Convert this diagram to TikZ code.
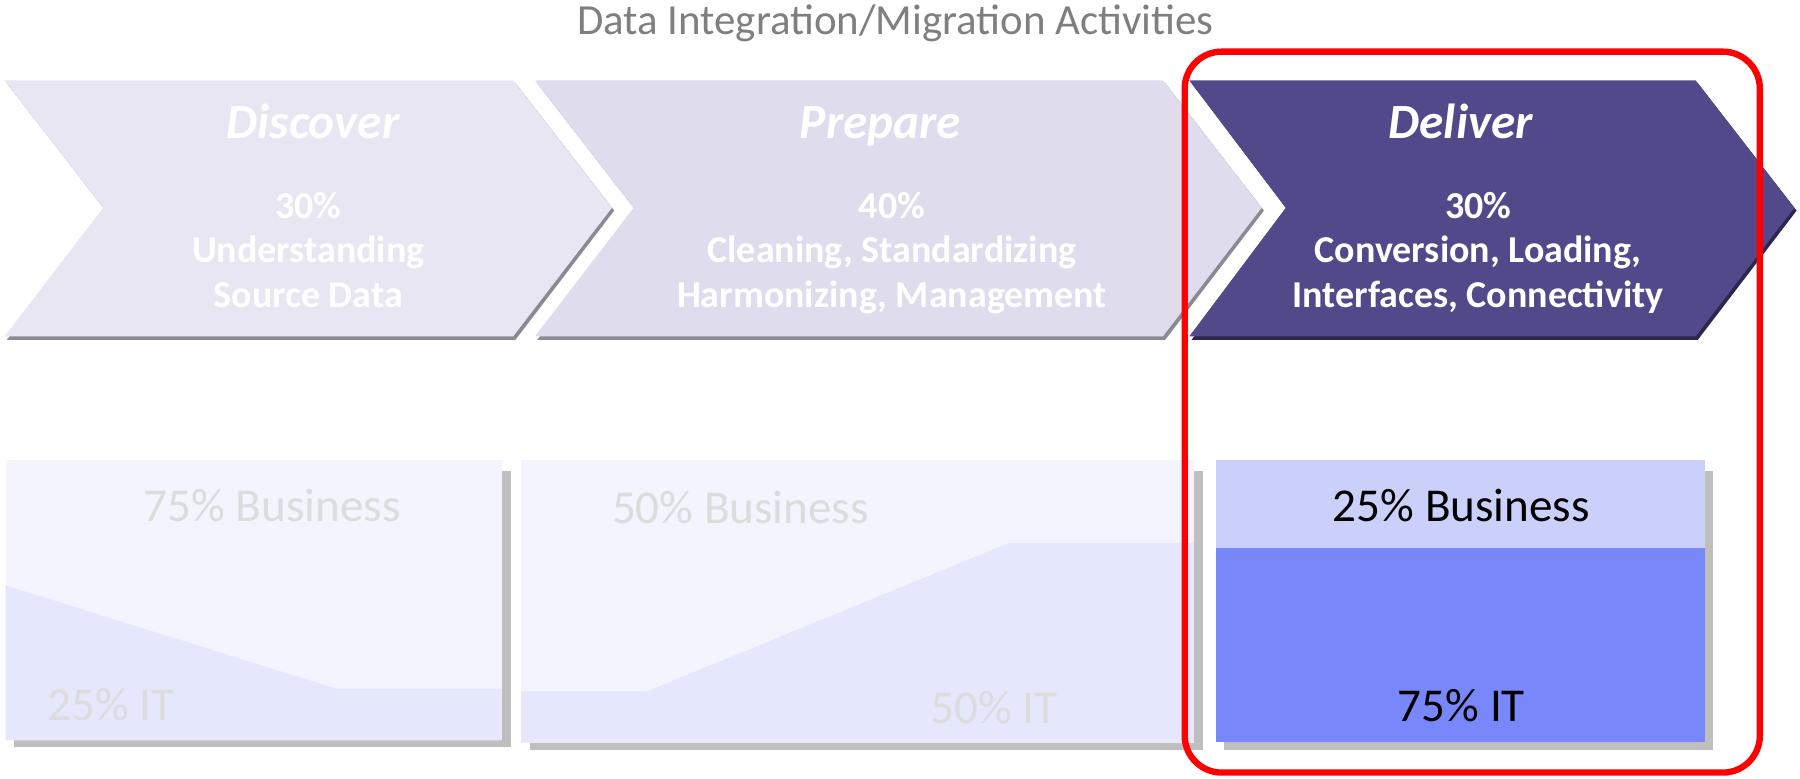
\documentclass[tikz,border=0pt]{standalone}
\usepackage{fontspec}
\setmainfont{Carlito}
\definecolor{chevA}{HTML}{E8E6F3}
\definecolor{chevB}{HTML}{DFDCEE}
\definecolor{chevC}{HTML}{514A8A}
\definecolor{shadeL}{HTML}{8A8A94}
\definecolor{shadeD}{HTML}{2B2750}
\definecolor{boxTop}{HTML}{F2F4FE}
\definecolor{boxLow}{HTML}{E5E7FC}
\definecolor{ghost}{HTML}{DCDCDC}
\definecolor{delTop}{HTML}{CBD0FB}
\definecolor{delLow}{HTML}{7887F9}
\definecolor{shadowG}{HTML}{BFBFBF}
\definecolor{titleG}{HTML}{7F7F7F}
\begin{document}
\begin{tikzpicture}[x=0.01148cm,y=-0.01148cm,
  phase/.style={font=\fontsize{14}{16}\selectfont\bfseries\itshape, text=white, anchor=base, inner sep=0pt},
  phasetxt/.style={font=\fontsize{10.8}{12.6}\selectfont\bfseries, text=white, anchor=base, inner sep=0pt},
  share/.style={font=\fontsize{13.4}{15}\selectfont, anchor=base, inner sep=0pt},
  ghosttxt/.style={share, text=ghost},
  realtxt/.style={share, text=black}]
\useasboundingbox (0,0) rectangle (1568,678);
% title
\node[font=\fontsize{12.2}{14}\selectfont, text=titleG, anchor=base, inner sep=0pt] (title) at (780,30) {Data Integration/Migration Activities};
% chevrons: shadows
\fill[shadeL] (6,72.5) -- (449,72.5) -- (535,183.5) -- (449,296) -- (6,296) -- (92,183.5) -- cycle;
\fill[shadeL] (468,72.5) -- (1015,72.5) -- (1101,183.5) -- (1015,296) -- (468,296) -- (554,183.5) -- cycle;
\fill[shadeD] (1038,72.5) -- (1479,72.5) -- (1565,183.5) -- (1479,296) -- (1038,296) -- (1122,183.5) -- cycle;
% chevrons
\fill[chevA] (4,70) -- (447,70) -- (533,181) -- (447,293) -- (4,293) -- (90,181) -- cycle;
\fill[chevB] (466,70) -- (1013,70) -- (1099,181) -- (1013,293) -- (466,293) -- (552,181) -- cycle;
\fill[chevC] (1036,70) -- (1477,70) -- (1563,181) -- (1477,293) -- (1036,293) -- (1120,181) -- cycle;
% chevron texts
\node[phase] (dis) at (272.6,121) {Discover};
\node[phasetxt] (dis1) at (268.5,190.5) {30\%};
\node[phasetxt] (dis2) at (268.5,229) {Understanding};
\node[phasetxt] (dis3) at (268.5,267.5) {Source Data};
\node[phase] (pre) at (767,121) {Prepare};
\node[phasetxt] (pre1) at (777,190.5) {40\%};
\node[phasetxt] (pre2) at (777,229) {Cleaning, Standardizing};
\node[phasetxt] (pre3) at (777,267.5) {Harmonizing, Management};
\node[phase] (del) at (1272.5,121) {Deliver};
\node[phasetxt] (del1) at (1287.6,190.5) {30\%};
\node[phasetxt] (del2) at (1287.6,229) {Conversion, Loading,};
\node[phasetxt] (del3) at (1287.6,267.5) {Interfaces, Connectivity};
% box 1
\fill[shadowG] (12,410) rectangle (445,651);
\fill[boxTop] (5,401) rectangle (437,645);
\fill[boxLow] (5,510) -- (293,600) -- (437,600) -- (437,645) -- (5,645) -- cycle;
\node[ghosttxt] (b1a) at (237,454) {75\% Business};
\node[ghosttxt] (b1b) at (96.5,628) {25\% IT};
% box 2
\fill[shadowG] (462,410) rectangle (1048,653);
\fill[boxTop] (454,401) rectangle (1040,647);
\fill[boxLow] (454,602) -- (564,602) -- (879,473) -- (1040,473) -- (1040,647) -- (454,647) -- cycle;
\node[ghosttxt] (b2a) at (645,455.6) {50\% Business};
\node[ghosttxt] (b2b) at (866,630) {50\% IT};
% box 3
\fill[shadowG] (1066,410) rectangle (1492,653);
\fill[delTop] (1059,401) rectangle (1485,477);
\fill[delLow] (1059,477) rectangle (1485,646);
\node[realtxt] (b3a) at (1273,454) {25\% Business};
\node[realtxt] (b3b) at (1273,628.6) {75\% IT};
% highlight
\draw[red, line width=1.8pt, rounded corners=10.5pt] (1032,45) rectangle (1533,673);
\end{tikzpicture}
\end{document}
